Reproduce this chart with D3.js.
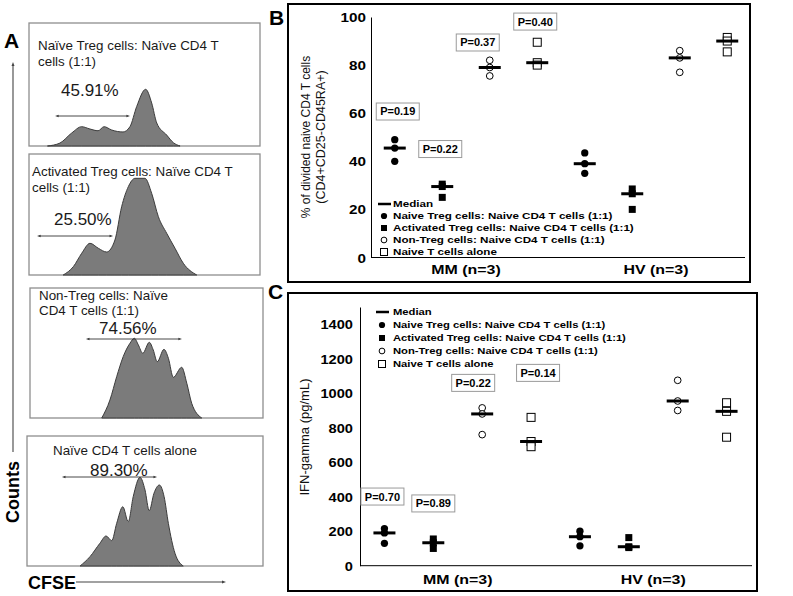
<!DOCTYPE html>
<html><head><meta charset="utf-8">
<script src="https://cdn.jsdelivr.net/npm/d3@7"></script>
<style>body{margin:0;background:#fff} svg{display:block}</style>
</head><body>
<svg id="fig" width="793" height="596"></svg>
<script>
// ---------------- DATA ----------------
const groups = ["MM (n=3)", "HV (n=3)"];
const seriesNames = [
  "Naive Treg cells: Naive CD4 T cells (1:1)",
  "Activated Treg cells: Naive CD4 T cells (1:1)",
  "Non-Treg cells: Naive CD4 T cells (1:1)",
  "Naive T cells alone"
];
const seriesShapes = ["filledCircle", "filledSquare", "openCircle", "openSquare"];

// Panel B: % of divided naive CD4 T cells (3 donors per series)
const dividedMM = [[49, 45.5, 40], [30.5, 29.5, 25], [82, 79, 75.5], [89.5, 81, 80]];
const dividedHV = [[43.5, 39, 35], [28.5, 26.5, 20], [86, 83, 77], [91.5, 90, 85.5]];
const dividedTicks = [0, 20, 40, 60, 80, 100];
const pLabelsB = ["P=0.19", "P=0.22", "P=0.37", "P=0.40"];
const pValuePosB = [60.7, 45.1, 89.4, 98.1];

// Panel C: IFN-gamma (pg/mL)
const ifnMM = [[215, 190, 130], [155, 133, 100], [915, 880, 760], [860, 720, 690]];
const ifnHV = [[200, 168, 115], [163, 110, 105], [1075, 955, 900], [945, 895, 745]];
const ifnTicks = [0, 200, 400, 600, 800, 1000, 1200, 1400];
const pLabelsC = ["P=0.70", "P=0.89", "P=0.22", "P=0.14"];
const pValuePosC = [401, 361, 1060, 1118];

// Panel A: CFSE histograms (CFSE position 0-100, relative count 0-100)
const histTitles = [
  ["Naïve Treg cells: Naïve CD4 T", "cells (1:1)"],
  ["Activated Treg cells: Naïve CD4 T", "cells (1:1)"],
  ["Non-Treg cells: Naïve", "CD4 T cells (1:1)"],
  ["Naïve CD4 T cells alone"]
];
const histPercents = ["45.91%", "25.50%", "74.56%", "89.30%"];
const histGates = [[11.3, 43.7], [3.5, 36.4], [24.0, 65.2], [14.8, 55.1]];
const histNaiveTreg = [[8,0],[13.4,2.4],[18.5,10.6],[22.8,15.7],[26.4,13.8],[29.9,12.4],[32.5,15.7],[35.8,13],[40.7,11.4],[43.7,15.7],[46.6,32],[50.5,46.1],[53.1,35],[55.3,18.7],[59.6,8.9],[62.5,2.7],[65.4,0]];
const histActTreg = [[14.8,0],[19.2,6.9],[22.8,17.9],[26.4,26.2],[30,22.1],[33.6,19],[37.2,28.9],[40.1,56.4],[43,73],[45.9,79.9],[50.2,79.9],[53.1,67.5],[56,48.2],[59.6,34.5],[63.2,22.1],[66.8,9.7],[72.6,0]];
const histNonTreg = [[30.8,0],[34.3,13.8],[37.2,31.8],[40,47.2],[42.9,57.5],[44.8,61.3],[46.5,56.2],[48.4,49.8],[51.2,58.2],[52.9,52.3],[54.6,43.3],[57.5,52.8],[59.4,45.9],[61.5,31.3],[65.1,39],[67.3,26.7],[69.4,11.3],[73.7,0]];
const histAlone = [[22.5,0],[26.7,7.2],[30.9,17.5],[33.5,23.1],[35.9,19.5],[38,32.8],[40.6,45.6],[42.9,34.1],[45,53.3],[47.9,68.2],[50,58.5],[51.8,42.5],[53.8,55.9],[56.1,62.3],[58.1,53.3],[59.9,32.8],[62.7,9.8],[66.2,0]];
const histSeries = [histNaiveTreg, histActTreg, histNonTreg, histAlone];

// ---------------- LAYOUT ----------------
const svg = d3.select("#fig");
const SANS = "'Liberation Sans', Arial, Helvetica, sans-serif";

function arrowHead(g, x, y, dir, size, color) {
  const s = size;
  let p;
  if (dir === "right") p = `M${x},${y} L${x - s * 1.6},${y - s * 0.6} L${x - s * 1.6},${y + s * 0.6} Z`;
  else if (dir === "left") p = `M${x},${y} L${x + s * 1.6},${y - s * 0.6} L${x + s * 1.6},${y + s * 0.6} Z`;
  else p = `M${x},${y} L${x - s * 0.6},${y + s * 1.6} L${x + s * 0.6},${y + s * 1.6} Z`;
  g.append("path").attr("d", p).attr("fill", color);
}

// ---------- Panel A ----------
const boxes = [
  { x: 29, y: 23, w: 231, h: 123, tx: 38, ty: 50, ls: 16, px: 61, py: 96, ay: 116 },
  { x: 29, y: 154, w: 231, h: 121, tx: 32, ty: 176, ls: 16, px: 54, py: 225, ay: 236 },
  { x: 30, y: 288, w: 233, h: 130, tx: 39, ty: 300, ls: 15, px: 99, py: 334, ay: 339 },
  { x: 27, y: 436, w: 236, h: 130, tx: 53, ty: 455, ls: 15, px: 90, py: 476, ay: 477 }
];
const gA = svg.append("g");
boxes.forEach((b, i) => {
  const xs = d3.scaleLinear().domain([0, 100]).range([b.x, b.x + b.w]);
  const ys = d3.scaleLinear().domain([0, 100]).range([b.y + b.h, b.y]);
  gA.append("rect").attr("x", b.x).attr("y", b.y).attr("width", b.w).attr("height", b.h)
    .attr("fill", "#fff").attr("stroke", "#8e8e8e").attr("stroke-width", 1.3);
  const area = d3.area().x(d => xs(d[0])).y0(ys(0)).y1(d => ys(d[1])).curve(d3.curveMonotoneX);
  gA.append("path").datum(histSeries[i]).attr("d", area)
    .attr("fill", "#7b7b7b").attr("stroke", "#3c3c3c").attr("stroke-width", 1);
  histTitles[i].forEach((t, j) => {
    gA.append("text").attr("x", b.tx).attr("y", b.ty + j * b.ls).text(t)
      .attr("font-family", SANS).attr("font-size", 13.4).attr("fill", "#1a1a1a");
  });
  gA.append("text").attr("x", b.px).attr("y", b.py).text(histPercents[i])
    .attr("font-family", SANS).attr("font-size", 17).attr("fill", "#1a1a1a");
  const gx0 = xs(histGates[i][0]), gx1 = xs(histGates[i][1]);
  gA.append("line").attr("x1", gx0 + 3).attr("x2", gx1 - 3).attr("y1", b.ay).attr("y2", b.ay)
    .attr("stroke", "#333").attr("stroke-width", 0.9);
  arrowHead(gA, gx0, b.ay, "left", 2.2, "#333");
  arrowHead(gA, gx1, b.ay, "right", 2.2, "#333");
});
gA.append("line").attr("x1", 13).attr("x2", 13).attr("y1", 452).attr("y2", 66).attr("stroke", "#444").attr("stroke-width", 1.1);
arrowHead(gA, 13, 62, "up", 2.5, "#444");
gA.append("text").attr("transform", "translate(19,492) rotate(-90)").attr("text-anchor", "middle")
  .attr("font-family", SANS).attr("font-weight", "bold").attr("font-size", 18).text("Counts");
gA.append("text").attr("x", 28).attr("y", 589)
  .attr("font-family", SANS).attr("font-weight", "bold").attr("font-size", 18).text("CFSE");
gA.append("line").attr("x1", 76).attr("x2", 222).attr("y1", 582).attr("y2", 582).attr("stroke", "#444").attr("stroke-width", 1.1);
arrowHead(gA, 226, 582, "right", 2.5, "#444");
gA.append("text").attr("x", 4).attr("y", 48).attr("font-family", SANS).attr("font-weight", "bold").attr("font-size", 21).text("A");

// ---------- Scatter panels ----------
function marker(g, shape, cx, cy, sz) {
  if (shape === "filledCircle") g.append("circle").attr("cx", cx).attr("cy", cy).attr("r", sz * 0.52).attr("fill", "#000");
  else if (shape === "openCircle") g.append("circle").attr("cx", cx).attr("cy", cy).attr("r", sz * 0.48).attr("fill", "#fff").attr("stroke", "#000").attr("stroke-width", 1);
  else if (shape === "filledSquare") g.append("rect").attr("x", cx - sz / 2).attr("y", cy - sz / 2).attr("width", sz).attr("height", sz).attr("fill", "#000");
  else g.append("rect").attr("x", cx - sz / 2 - 0.5).attr("y", cy - sz / 2 - 0.5).attr("width", sz + 1).attr("height", sz + 1).attr("fill", "#fff").attr("stroke", "#000").attr("stroke-width", 1);
}

function drawScatter(cfg, values, ticks, pLabels, pPos) {
  const g = svg.append("g");
  g.append("rect").attr("x", cfg.box[0]).attr("y", cfg.box[1])
    .attr("width", cfg.box[2] - cfg.box[0]).attr("height", cfg.box[3] - cfg.box[1])
    .attr("fill", "#fff").attr("stroke", "#000").attr("stroke-width", 2);
  g.append("text").attr("x", cfg.label[0]).attr("y", cfg.label[1]).attr("font-family", SANS)
    .attr("font-weight", "bold").attr("font-size", 21).text(cfg.letter);

  const y = d3.scaleLinear().domain([0, cfg.ymax]).range([cfg.y0, cfg.y1]);
  const xg = d3.scalePoint().domain(groups).range([cfg.ax, cfg.ax + cfg.groupSpan]).padding(0.5);
  const xs = d3.scaleBand().domain(d3.range(seriesNames.length)).range([-cfg.groupSpan / 4, cfg.groupSpan / 4]);
  const xPos = (gi, si) => xg(groups[gi]) + xs(si) + xs.bandwidth() / 2;

  const ya = g.append("g").attr("transform", `translate(${cfg.ax},0)`)
    .call(d3.axisLeft(y).tickValues(ticks).tickFormat(d3.format("d")).tickSize(0).tickSizeOuter(0).tickPadding(cfg.tickPad));
  ya.select(".domain").attr("stroke", "#000").attr("stroke-width", 1);
  ya.selectAll(".tick text").attr("x", 0).attr("dy", "0.36em")
    .attr("transform", `translate(${-cfg.tickPad},0) scale(1.22,1)`)
    .attr("font-family", SANS).attr("font-weight", "bold").attr("font-size", cfg.tickFont).attr("fill", "#000");

  g.append("line").attr("x1", cfg.ax).attr("x2", cfg.axEnd).attr("y1", y(0)).attr("y2", y(0)).attr("stroke", "#000").attr("stroke-width", 1);
  groups.forEach(name => {
    g.append("text").attr("transform", `translate(${xg(name)},${cfg.catY}) scale(1.18,1)`)
      .attr("text-anchor", "middle").attr("font-family", SANS).attr("font-weight", "bold")
      .attr("font-size", 13.5).text(name);
  });

  cfg.titles.forEach(t => {
    g.append("text").attr("transform", `translate(${t.x},${t.y}) rotate(-90)`).attr("text-anchor", "middle")
      .attr("font-family", SANS).attr("font-size", t.size).attr("fill", "#111").text(t.text);
  });

  values.forEach((grp, gi) => {
    grp.forEach((vals, si) => {
      const cx = xPos(gi, si);
      vals.forEach(v => marker(g, seriesShapes[si], cx, y(v), 7));
      const med = d3.median(vals);
      g.append("line").attr("x1", cx - 11).attr("x2", cx + 11).attr("y1", y(med)).attr("y2", y(med))
        .attr("stroke", "#000").attr("stroke-width", 3);
    });
  });

  const leg = g.append("g");
  leg.append("line").attr("x1", cfg.legSym - 6).attr("x2", cfg.legSym + 7).attr("y1", cfg.legY).attr("y2", cfg.legY)
    .attr("stroke", "#000").attr("stroke-width", 2.5);
  leg.append("text").attr("transform", `translate(${cfg.legText},${cfg.legY}) scale(1.25,1)`).attr("dy", "0.36em")
    .attr("font-family", SANS).attr("font-weight", "bold").attr("font-size", cfg.legFont).text("Median");
  seriesNames.forEach((name, i) => {
    const yy = cfg.legY + (i + 1) * cfg.legStep;
    marker(leg, seriesShapes[i], cfg.legSym, yy, 6);
    leg.append("text").attr("transform", `translate(${cfg.legText},${yy}) scale(1.25,1)`).attr("dy", "0.36em")
      .attr("font-family", SANS).attr("font-weight", "bold").attr("font-size", cfg.legFont).text(name);
  });

  pLabels.forEach((lab, i) => {
    const cx = xPos(0, i) + cfg.pdx[i], cy = y(pPos[i]);
    g.append("rect").attr("x", cx - 21.5).attr("y", cy - 8.5).attr("width", 43).attr("height", 17)
      .attr("fill", "#fff").attr("stroke", "#9a9a9a").attr("stroke-width", 1);
    g.append("text").attr("x", cx).attr("y", cy).attr("dy", "0.36em").attr("text-anchor", "middle")
      .attr("font-family", SANS).attr("font-weight", "bold").attr("font-size", 11).text(lab);
  });
}

drawScatter({
  letter: "B", label: [269, 25], box: [288, 4, 750, 282],
  ax: 371, axEnd: 745, y0: 257.5, y1: 17, ymax: 100, tickPad: 5, tickFont: 12.5,
  groupSpan: 380, catY: 274,
  titles: [{ x: 310, y: 137, size: 12, text: "% of divided naive CD4 T cells" },
           { x: 325, y: 137, size: 12.5, text: "(CD4+CD25-CD45RA+)" }],
  legSym: 384, legText: 393, legY: 204, legStep: 12, legFont: 9.3,
  pdx: [3, -2, -12, -2]
}, [dividedMM, dividedHV], dividedTicks, pLabelsB, pValuePosB);

drawScatter({
  letter: "C", label: [268, 299], box: [288, 293, 757, 591],
  ax: 360, axEnd: 752, y0: 565.7, y1: 307, ymax: 1500, tickPad: 7, tickFont: 12,
  groupSpan: 391, catY: 584,
  titles: [{ x: 309, y: 437, size: 13, text: "IFN-gamma (pg/mL)" }],
  legSym: 382, legText: 393, legY: 312, legStep: 13, legFont: 9,
  pdx: [-2, 0, -9, 7]
}, [ifnMM, ifnHV], ifnTicks, pLabelsC, pValuePosC);
</script>
</body></html>
